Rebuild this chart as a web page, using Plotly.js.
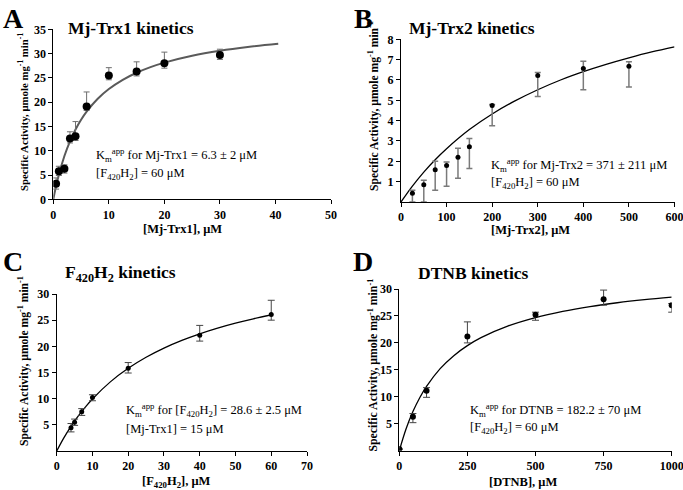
<!DOCTYPE html>
<html>
<head>
<meta charset="utf-8">
<script src="https://cdn.plot.ly/plotly-3.0.1.min.js"></script>
<style>
html,body{margin:0;padding:0;background:#fff;}
#chart{width:683px;height:490px;}
#chart .xtick text, #chart .ytick text{font-family:'Liberation Serif',serif !important;font-weight:bold !important;font-size:12px !important;}
</style>
</head>
<body>
<div id="chart"></div>
<script>
// ---- Panel A: Mj-Trx1 kinetics ----
const aX = [0.5, 1, 2, 3, 4, 6, 10, 15, 20, 30];
const aY = [3.2, 5.8, 6.3, 12.5, 13.0, 19.1, 25.5, 26.3, 28.0, 29.7];
const aErrPlus = [1.2, 1.0, 0.8, 1.4, 3.0, 3.0, 1.6, 2.0, 2.3, 1.2];
const aErrMinus = [1.1, 0.9, 0.9, 0.9, 0.9, 0.8, 0.9, 0.9, 1.0, 0.9];
const aFitX = [0, 0.5, 1, 2, 3, 4, 5, 6, 8, 10, 12.5, 15, 17.5, 20, 25, 30, 35, 40.5];
const aFitY = [0, 2.72, 5.07, 8.92, 11.94, 14.37, 16.37, 18.05, 20.70, 22.70, 24.60, 26.06, 27.21, 28.14, 29.55, 30.58, 31.36, 32.02];

// ---- Panel B: Mj-Trx2 kinetics ----
const bX = [25, 50, 75, 100, 125, 150, 200, 300, 400, 500];
const bY = [0.43, 0.85, 1.58, 1.8, 2.2, 2.72, 4.75, 6.22, 6.56, 6.68];
const bErrPlus = [0.15, 0.22, 0.42, 0.17, 0.44, 0.4, 0.05, 0.15, 0.36, 0.21];
const bErrMinus = [0.43, 0.85, 1.0, 1.03, 1.03, 1.07, 1.0, 1.03, 1.04, 1.02];
const bFitX = [0, 25, 50, 75, 100, 150, 200, 250, 300, 350, 400, 450, 500, 550, 600];
const bFitY = [0, 0.78, 1.47, 2.08, 2.62, 3.56, 4.33, 4.97, 5.52, 6.00, 6.41, 6.77, 7.09, 7.38, 7.63];

// ---- Panel C: F420H2 kinetics ----
const cX = [4, 5, 7, 10, 20, 40, 60];
const cY = [4.45, 5.5, 7.5, 10.2, 15.8, 22.1, 26.1];
const cErrPlus = [0.8, 0.6, 0.6, 0.55, 1.1, 1.9, 2.7];
const cErrMinus = [0.8, 0.6, 0.7, 0.6, 0.9, 1.1, 1.1];
const cFitX = [0, 2, 4, 6, 8, 10, 15, 20, 25, 30, 35, 40, 45, 50, 55, 60];
const cFitY = [0, 2.51, 4.71, 6.66, 8.39, 9.95, 13.21, 15.80, 17.91, 19.66, 21.13, 22.39, 23.48, 24.43, 25.26, 26.00];

// ---- Panel D: DTNB kinetics ----
const dX = [0, 50, 100, 250, 500, 750, 1000];
const dY = [0.3, 6.3, 11.1, 21.2, 25.2, 28.1, 27.0];
const dErrPlus = [0, 0.6, 0.6, 2.7, 0.5, 1.7, 0.3];
const dErrMinus = [0, 1.1, 1.2, 1.2, 1.0, 1.1, 1.3];
const dFitX = [0, 25, 50, 75, 100, 150, 200, 250, 300, 400, 500, 600, 700, 800, 900, 1000];
const dFitY = [0, 4.07, 7.26, 9.83, 11.94, 15.22, 17.63, 19.49, 20.97, 23.15, 24.70, 25.85, 26.74, 27.45, 28.03, 28.51];

// ---- Tick labels ----
const aXTicks = [0, 10, 20, 30, 40, 50];
const aYTicks = [0, 5, 10, 15, 20, 25, 30, 35];
const bXTicks = [0, 100, 200, 300, 400, 500, 600];
const bYTicks = [1, 2, 3, 4, 5, 6, 7, 8];
const cXTicks = [0, 10, 20, 30, 40, 50, 60, 70];
const cYTicks = [5, 10, 15, 20, 25, 30];
const dXTicks = [0, 250, 500, 750, 1000];
const dYTicks = [5, 10, 15, 20, 25, 30];

// ---- Text ----
const panelLetters = ['A', 'B', 'C', 'D'];
const panelTitles = ['Mj-Trx1 kinetics', 'Mj-Trx2 kinetics', 'F<sub>420</sub>H<sub>2</sub> kinetics', 'DTNB kinetics'];
const xTitles = ['[Mj-Trx1], μM', '[Mj-Trx2], μM', '[F<sub>420</sub>H<sub>2</sub>], μM', '[DTNB], μM'];
const yTitle = 'Specific Activity, μmole mg<sup>-1</sup> min<sup>-1</sup>';
const kmLines = [
  'K<sub>m</sub><sup>app</sup> for Mj-Trx1 = 6.3 ± 2 μM',
  'K<sub>m</sub><sup>app</sup> for Mj-Trx2 = 371 ± 211 μM',
  'K<sub>m</sub><sup>app</sup> for [F<sub>420</sub>H<sub>2</sub>] = 28.6 ± 2.5 μM',
  'K<sub>m</sub><sup>app</sup> for DTNB = 182.2 ± 70 μM'
];
const condLines = [
  '[F<sub>420</sub>H<sub>2</sub>] = 60 μM',
  '[F<sub>420</sub>H<sub>2</sub>] = 60 μM',
  '[Mj-Trx1] = 15 μM',
  '[F<sub>420</sub>H<sub>2</sub>] = 60 μM'
];

const W = 683, H = 490;
const SERIF = 'Liberation Serif';
const px = v => v / W;
const py = v => 1 - v / H;

function pts(x, y, plus, minus, xa, ya, size, ecol, ethick, ew) {
  return {
    x: x, y: y, type: 'scatter', mode: 'markers', xaxis: xa, yaxis: ya,
    marker: {color: '#000', size: size},
    error_y: {type: 'data', symmetric: false, array: plus, arrayminus: minus,
      color: ecol, thickness: ethick, width: ew},
    showlegend: false, hoverinfo: 'skip'
  };
}
function fit(x, y, xa, ya, col, w) {
  return {x: x, y: y, type: 'scatter', mode: 'lines', xaxis: xa, yaxis: ya,
    line: {color: col, width: w, shape: 'spline'}, showlegend: false, hoverinfo: 'skip'};
}

const data = [
  fit(aFitX, aFitY, 'x', 'y', '#5a5a5a', 2),
  pts(aX, aY, aErrPlus, aErrMinus, 'x', 'y', 8, '#6e6e6e', 1, 3),
  fit(bFitX, bFitY, 'x2', 'y2', '#000', 1.3),
  pts(bX, bY, bErrPlus, bErrMinus, 'x2', 'y2', 5, '#7a7a7a', 1.5, 3),
  fit(cFitX, cFitY, 'x3', 'y3', '#000', 1.3),
  pts(cX, cY, cErrPlus, cErrMinus, 'x3', 'y3', 5, '#444', 1, 3.5),
  fit(dFitX, dFitY, 'x4', 'y4', '#000', 1.3),
  pts(dX, dY, dErrPlus, dErrMinus, 'x4', 'y4', 6, '#444', 1, 3.5)
];

function tf() { return {family: SERIF, size: 12, color: '#000', weight: 'bold'}; }
function axis(dom, range, vals, anchor) {
  return {domain: dom, range: range, tickmode: 'array', tickvals: vals,
    ticktext: vals.map(v => String(v)), anchor: anchor,
    showline: true, linecolor: '#000', linewidth: 1, ticks: 'outside', ticklen: 4,
    tickcolor: '#000', showgrid: false, zeroline: false, tickfont: tf(), fixedrange: true,
    ticklabeloverflow: 'allow'};
}

const annotations = [];
function ann(text, x, y, size, bold, opts) {
  annotations.push(Object.assign({text: bold ? '<b>' + text + '</b>' : text, x: px(x), y: py(y), xref: 'paper', yref: 'paper',
    showarrow: false, xanchor: 'center', yanchor: 'middle',
    font: {family: SERIF, size: size, color: '#000'}}, opts || {}));
}

// letters
ann(panelLetters[0], 13, 0.5, 28, true, {yanchor: 'top'});
ann(panelLetters[1], 363, 0.5, 28, true, {yanchor: 'top'});
ann(panelLetters[2], 13, 244, 28, true, {yanchor: 'top'});
ann(panelLetters[3], 363, 244, 28, true, {yanchor: 'top'});
// panel titles
ann(panelTitles[0], 130.5, 28, 17.5, true);
ann(panelTitles[1], 472, 28, 17.5, true);
ann(panelTitles[2], 120, 273, 17.5, true);
ann(panelTitles[3], 473, 273, 17.5, true);
// x titles
ann(xTitles[0], 182.5, 229.5, 12.5, true);
ann(xTitles[1], 530.5, 230, 12.5, true);
ann(xTitles[2], 176.5, 482, 12.5, true);
ann(xTitles[3], 523, 482, 12.5, true);
// y titles
ann(yTitle, 23.5, 112.5, 10.8, true, {textangle: -90});
ann(yTitle, 373, 106, 11.6, true, {textangle: -90});
ann(yTitle, 23.5, 361.5, 11.6, true, {textangle: -90});
ann(yTitle, 372.5, 365, 11.8, true, {textangle: -90});
// Km text
ann(kmLines[0], 94, 155, 12.5, false, {xanchor: 'left'});
ann(condLines[0], 94, 173.5, 12.5, false, {xanchor: 'left'});
ann(kmLines[1], 489, 165, 12.5, false, {xanchor: 'left'});
ann(condLines[1], 489, 183, 12.5, false, {xanchor: 'left'});
ann(kmLines[2], 124, 410, 12.5, false, {xanchor: 'left'});
ann(condLines[2], 124, 428.5, 12.5, false, {xanchor: 'left'});
ann(kmLines[3], 467.5, 409.5, 12.5, false, {xanchor: 'left'});
ann(condLines[3], 467.5, 427.5, 12.5, false, {xanchor: 'left'});

const layout = {
  width: W, height: H,
  margin: {l: 0, r: 0, t: 0, b: 0, pad: 0},
  font: {family: SERIF, size: 12, color: '#000'},
  paper_bgcolor: '#fff', plot_bgcolor: 'rgba(0,0,0,0)',
  showlegend: false,
  xaxis: axis([px(53.3), px(331)], [0, 50], aXTicks, 'y'),
  yaxis: axis([py(199.3), py(29.3)], [0, 35], aYTicks, 'x'),
  xaxis2: axis([px(401), px(674.5)], [0, 600], bXTicks, 'y2'),
  yaxis2: axis([py(202), py(39.3)], [0, 8], bYTicks, 'x2'),
  xaxis3: axis([px(56.7), px(307)], [0, 70], cXTicks, 'y3'),
  yaxis3: axis([py(451), py(294)], [0, 30], cYTicks, 'x3'),
  xaxis4: axis([px(399.3), px(671.7)], [0, 1000], dXTicks, 'y4'),
  yaxis4: axis([py(450.7), py(289)], [0, 30], dYTicks, 'x4'),
  annotations: annotations
};

Plotly.newPlot('chart', data, layout, {staticPlot: true, displayModeBar: false});
</script>
</body>
</html>
